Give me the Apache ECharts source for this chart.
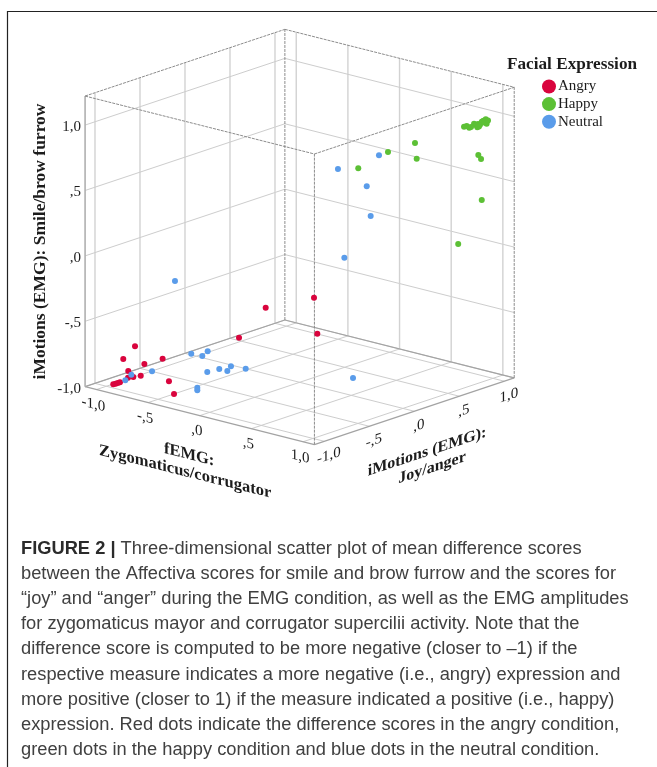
<!DOCTYPE html>
<html><head><meta charset="utf-8">
<style>html,body{margin:0;padding:0;background:#fff}#c{width:657px;height:767px}</style>
<script src="https://cdn.jsdelivr.net/npm/echarts@6/dist/echarts.min.js"></script>
</head><body><div id="c"></div>
<script>
// values: [fEMG, iMotions joy/anger, iMotions smile/brow furrow]
var angry = [
[0.309,-0.732,-0.2],[0.410,-0.311,-0.2],[0.375,-0.234,-0.5],
[0.009,-0.684,-0.5],[-0.638,-1.097,-0.6],[-0.817,-1.022,-0.75],
[-0.281,-1.200,-0.6],[-0.510,-1.140,-0.7],[-0.807,-0.978,-0.85],
[-0.661,-1.007,-0.85],[-0.788,-0.944,-0.9],[-0.806,-0.982,-0.9],
[-0.305,-1.102,-0.8],[-0.175,-1.195,-0.85],[-0.994,-0.930,-1],
[-0.991,-0.907,-1],[-0.991,-0.884,-1],[-0.990,-0.860,-1]];
var happy = [
[0.897,0.797,0.95],[0.900,0.823,0.95],[0.942,0.803,0.95],
[0.946,0.852,0.97],[0.978,0.837,0.97],[0.980,0.849,0.95],
[0.973,0.865,0.97],[0.995,0.862,0.97],[0.977,0.902,0.98],
[0.969,0.929,0.98],[0.981,0.942,0.99],[0.972,0.962,0.95],
[0.940,0.825,0.95],[0.976,0.872,0.95],[1.002,0.898,0.98],[1.013,0.930,0.99],
[0.356,0.873,0.7],[0.409,0.831,0.6],[0.140,0.821,0.6],
[0.029,0.618,0.5],[0.903,0.949,0.7],[0.876,1.010,0.65],
[0.909,0.980,0.35],[0.750,0.901,0]];
var neutral = [
[0.037,0.839,0.55],[0.049,0.689,0.35],[0.129,0.641,0.15],
[-0.083,0.592,-0.2],[-0.071,0.507,0.5],[-0.848,-0.412,-0.3],
[-0.314,-0.844,-0.65],[-0.323,-0.711,-0.7],[-0.263,-0.720,-0.65],
[-0.211,-0.521,-0.8],[-0.231,-0.628,-0.8],[-0.261,-0.504,-0.85],
[-0.198,-0.372,-0.85],[-0.355,-0.619,-0.85],[-0.367,-0.716,-0.95],
[-0.367,-0.716,-0.97],[-0.671,-0.870,-0.85],[-0.837,-0.910,-0.9],
[-0.886,-0.920,-0.95],[0.439,0.089,-0.9]];
var tickValues = [-1,-0.5,0,0.5,1];
var tickLabels = ['-1,0','-,5',',0',',5','1,0'];
var rangeH = [-1.11,1.11];
var rangeV = [-1,1.222];
var captionLines = [
'Three-dimensional scatter plot of mean difference scores',
'between the Affectiva scores for smile and brow furrow and the scores for',
'\u201cjoy\u201d and \u201canger\u201d during the EMG condition, as well as the EMG amplitudes',
'for zygomaticus mayor and corrugator supercilii activity. Note that the',
'difference score is computed to be more negative (closer to \u20131) if the',
'respective measure indicates a more negative (i.e., angry) expression and',
'more positive (closer to 1) if the measure indicated a positive (i.e., happy)',
'expression. Red dots indicate the difference scores in the angry condition,',
'green dots in the happy condition and blue dots in the neutral condition.'];

// axonometric projection of the 3D box on the two hidden screen axes
function project(p){
  return [103.3*p[0] + 90*p[1], -26.1*p[0] + 30.05*p[1] + 130.8*p[2]];
}
var fMin=rangeH[0],fMax=rangeH[1],jMin=rangeH[0],jMax=rangeH[1],yMin=rangeV[0],yMax=rangeV[1];
var GRID={stroke:'#cdcdcd',lineWidth:1}, WALLV={stroke:'#d2d2d2',lineWidth:1.4},
    EDGE={stroke:'#8c8c8c',lineWidth:1,lineDash:[3,1]}, BASE={stroke:'#a3a3a3',lineWidth:1.2},
    LEFT={stroke:'#b0b0b0',lineWidth:1.6};
var segs=[];
function seg(a,b,s){segs.push({a:project(a),b:project(b),s:s});}
tickValues.forEach(function(t){
  seg([t,jMin,yMin],[t,jMax,yMin],GRID);     // floor
  seg([fMin,t,yMin],[fMax,t,yMin],GRID);
  seg([fMin,t,yMin],[fMin,t,yMax],WALLV);    // left wall
  seg([t,jMax,yMin],[t,jMax,yMax],WALLV);    // right wall
  seg([fMin,jMin,t],[fMin,jMax,t],GRID);
  seg([fMin,jMax,t],[fMax,jMax,t],GRID);
});
seg([fMin,jMin,yMin],[fMin,jMax,yMin],BASE);
seg([fMin,jMax,yMin],[fMax,jMax,yMin],BASE);
seg([fMin,jMin,yMin],[fMax,jMin,yMin],BASE);
seg([fMax,jMin,yMin],[fMax,jMax,yMin],BASE);
seg([fMin,jMin,yMin],[fMin,jMin,yMax],LEFT);
seg([fMin,jMax,yMin],[fMin,jMax,yMax],EDGE);
seg([fMax,jMin,yMin],[fMax,jMin,yMax],EDGE);
seg([fMax,jMax,yMin],[fMax,jMax,yMax],EDGE);
seg([fMin,jMin,yMax],[fMin,jMax,yMax],EDGE);
seg([fMin,jMax,yMax],[fMax,jMax,yMax],EDGE);
seg([fMax,jMin,yMax],[fMax,jMax,yMax],EDGE);
seg([fMin,jMin,yMax],[fMax,jMin,yMax],EDGE);

var SERIF='"Liberation Serif","DejaVu Serif",serif';
var SL1=0.245, SL2=-0.32;   // baseline slopes (radians) of the two floor axes
var texts=[];
function txt(p,dx,dy,t,o){texts.push(Object.assign({p:project(p),dx:dx,dy:dy,t:t},o));}
tickValues.forEach(function(v,i){
  txt([fMin,jMin,v],-4,2,tickLabels[i],{align:'right',font:'15px '+SERIF});
  txt([v,jMin,yMin],-3,15,tickLabels[i],{skew:SL1,font:'15px '+SERIF});
  txt([fMax,v,yMin],4.5,14.5,tickLabels[i],{skew:SL2,font:'15px '+SERIF});
});
txt([0,jMin,yMin],-10.6,39.3,'fEMG:',{skew:SL1,font:'bold 16.5px '+SERIF});
txt([0,jMin,yMin],-14.6,56.3,'Zygomaticus/corrugator',{skew:SL1,font:'bold 16.5px '+SERIF});
txt([fMax,0,yMin],12.7,40.7,'iMotions (EMG):',{skew:SL2,font:'bold 16px '+SERIF});
txt([fMax,0,yMin],17.7,56.7,'Joy/anger',{skew:SL2,font:'bold 16px '+SERIF});
txt([fMin,jMin,0.11],-45,0,'iMotions (EMG): Smile/brow furrow',{rot:Math.PI/2,font:'bold 17.5px '+SERIF});

function lineItem(params,api){
  var s=segs[params.dataIndex];
  var a=api.coord(s.a),b=api.coord(s.b);
  return {type:'line',shape:{x1:a[0],y1:a[1],x2:b[0],y2:b[1]},style:{stroke:s.s.stroke,lineWidth:s.s.lineWidth,lineDash:s.s.lineDash||null,fill:null},silent:true};
}
function textItem(params,api){
  var s=texts[params.dataIndex];
  var c=api.coord(s.p);
  var el={type:'text',x:c[0]+s.dx,y:c[1]+s.dy,silent:true,
    style:{text:s.t,font:s.font,fill:'#1c1c1c',align:s.align||'center',verticalAlign:'middle'}};
  if(s.skew)el.skewY=-s.skew;
  if(s.rot)el.rotation=s.rot;
  return el;
}
function scatter(name,data,color){
  return {type:'scatter',name:name,data:data.map(project),symbolSize:6,z:5,silent:true,animation:false,itemStyle:{color:color,opacity:1}};
}
var CX=299.65,CY=251.5,W=657,H=767;
var caption=captionLines.map(function(l,i){
  return {type:'text',x:21,y:548.5+i*25.2,silent:true,style:{
    text:i===0?'{b|FIGURE 2 | }{n|'+l+'}':'{n|'+l+'}',verticalAlign:'middle',
    rich:{b:{font:'bold 18.3px "Liberation Sans",Arial,sans-serif',fill:'#2b2b2b'},n:{font:'18.3px "Liberation Sans",Arial,sans-serif',fill:'#404040'}}}};
});
var chart=echarts.init(document.getElementById('c'),null,{width:W,height:H});
chart.setOption({
  animation:false,backgroundColor:'#fff',
  grid:{left:0,top:0,width:W,height:H},
  xAxis:{type:'value',min:-CX,max:W-CX,show:false},
  yAxis:{type:'value',min:CY-H,max:CY,show:false},
  title:{text:'Facial Expression',left:507,top:56,textStyle:{fontFamily:SERIF,fontWeight:'bold',fontSize:17.2,color:'#1c1c1c'},padding:0},
  legend:{left:542,top:79,orient:'vertical',itemWidth:14,itemHeight:14,itemGap:2.6,icon:'circle',padding:0,selectedMode:false,
    textStyle:{fontFamily:SERIF,fontSize:15,color:'#1c1c1c',padding:[0,0,0,-3]},data:['Angry','Happy','Neutral']},
  graphic:[
    {type:'polyline',shape:{points:[[7.5,H],[7.5,11.5],[W,11.5]]},style:{stroke:'#222',lineWidth:1.2,fill:null},silent:true}
  ].concat(caption),
  series:[
    {type:'custom',name:'box',data:segs.map(function(s,i){return [s.a[0],s.a[1]];}),renderItem:lineItem,silent:true,z:1,clip:false},
    scatter('Angry',angry,'#d9043d'),
    scatter('Happy',happy,'#5cc035'),
    scatter('Neutral',neutral,'#5a9cea'),
    {type:'custom',name:'labels',data:texts.map(function(s){return s.p;}),renderItem:textItem,silent:true,z:6,clip:false}
  ]
});
</script></body></html>
